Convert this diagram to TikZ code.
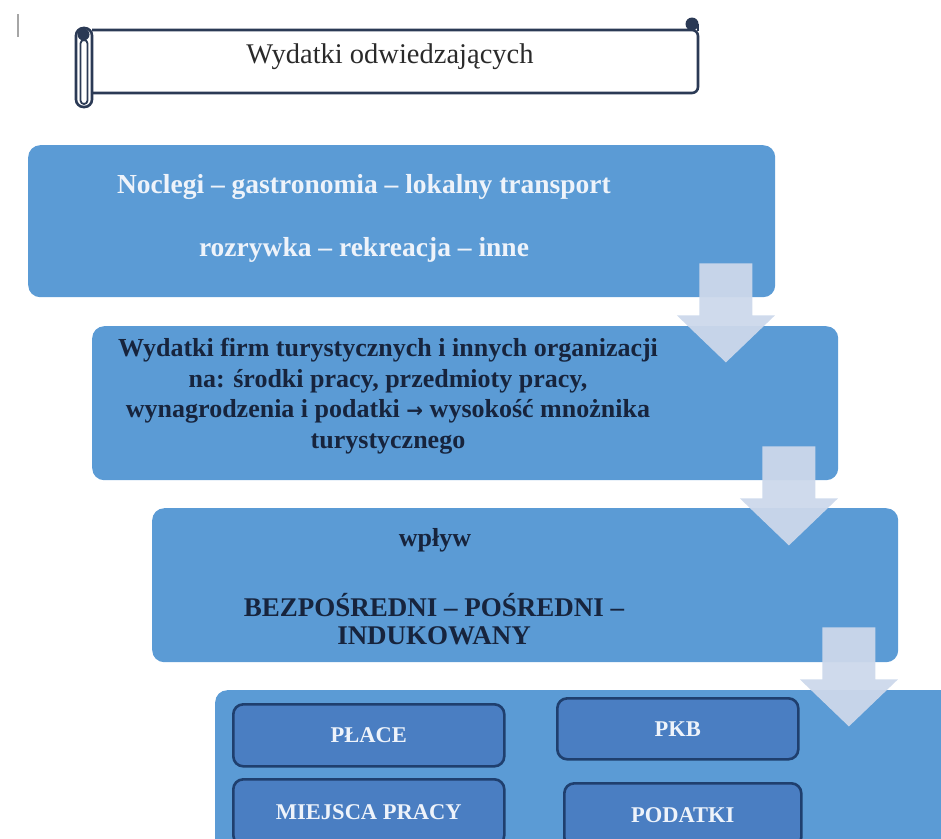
\documentclass[tikz,border=0pt]{standalone}
\usepackage{fontspec}
\setmainfont{Liberation Serif}
\usetikzlibrary{calc}

\definecolor{boxblue}{HTML}{5B9BD5}
\definecolor{arrowfill}{HTML}{CCD8EB}
\definecolor{innerfill}{HTML}{4A7EC2}
\definecolor{innerdraw}{HTML}{1F3F6E}
\definecolor{navytext}{HTML}{17243D}
\definecolor{lighttext}{HTML}{EEF3FA}
\definecolor{scrollink}{HTML}{2B3A55}
\definecolor{titletext}{HTML}{2A2A2A}

\tikzset{
  bluebox/.style={fill=boxblue, rounded corners=12pt, inner sep=0pt, anchor=north west},
  innerbox/.style={fill=innerfill, draw=innerdraw, line width=2.6pt, rounded corners=10pt,
    anchor=north west, inner sep=0pt, text=lighttext,
    font=\bfseries\fontsize{22.5}{26}\selectfont},
  lighttxt/.style={text=lighttext, font=\bfseries\fontsize{27.5}{30}\selectfont, inner sep=0pt},
  darktxt/.style={text=navytext, align=center, inner sep=0pt},
  scroll/.style={draw=scrollink, line width=2.6pt, line join=round},
  downarrow/.pic={
    \fill[arrowfill, opacity=0.95]
      (-26.5,0) -- (26.5,0) -- (26.5,52) -- (49,52) -- (0,99)
      -- (-49,52) -- (-26.5,52) -- cycle;
  }
}

\begin{document}
\begin{tikzpicture}[x=1pt, y=-1pt]
\useasboundingbox (0,0) rectangle (941,838);
\clip (0,0) rectangle (941,838);

% cursor mark at the top left
\draw[gray!70, line width=1.3pt] (18,14) -- (18,37);

% horizontal scroll banner
\draw[scroll, fill=white, rounded corners=6pt] (92,30) -- (698,30) -- (698,93) -- (92,93);
\draw[scroll] (698,31) -- (698,24);
\fill[scrollink] (692,24) circle (6.5);
\draw[scroll, fill=white, rounded corners=7.5pt] (76,28) rectangle (92,107);
\fill[scrollink] (83.5,34.5) circle (6);
\draw[draw=scrollink, line width=1.8pt, rounded corners=3.5pt] (80.5,40) rectangle (87.5,104);
\node[text=titletext, font=\fontsize{28.5}{30}\selectfont, inner sep=0pt] (title) at (390,57)
  {Wydatki odwiedzających};

% main blocks
\node[bluebox, minimum width=747pt, minimum height=152pt] (b1) at (28,145) {};
\node[bluebox, minimum width=746pt, minimum height=154pt] (b2) at (92,326) {};
\node[bluebox, minimum width=746pt, minimum height=154pt] (b3) at (152,508) {};
\node[bluebox, minimum width=760pt, minimum height=170pt] (b4) at (215,690) {};

% texts of the first block
\node[lighttxt] (b1a) at (364,187) {Noclegi – gastronomia – lokalny transport};
\node[lighttxt] (b1b) at (364,250) {rozrywka – rekreacja – inne};

% text of the second block
\node[darktxt, font=\bfseries\fontsize{26}{30.5}\selectfont] (b2t) at (388,396)
  {Wydatki firm turystycznych i innych organizacji\\
   na: środki pracy, przedmioty pracy,\\
   wynagrodzenia i podatki \raisebox{0.5pt}{\fontspec{DejaVu Sans}\fontsize{20}{20}\selectfont →} wysokość mnożnika\\
   turystycznego};

% texts of the third block
\node[darktxt, font=\bfseries\fontsize{26}{30}\selectfont] (b3a) at (435,540) {wpływ};
\node[darktxt, font=\bfseries\fontsize{27}{28}\selectfont] (b3b) at (434,619)
  {BEZPOŚREDNI – POŚREDNI –\\INDUKOWANY};

% effects
\node[innerbox, minimum width=271pt, minimum height=62pt] (place) at (232,703) {PŁACE};
\node[innerbox, minimum width=241pt, minimum height=61pt] (pkb) at (556,697) {PKB};
\node[innerbox, minimum width=271pt, minimum height=66pt] (miejsca) at (232,778) {MIEJSCA PRACY};
\node[innerbox, minimum width=237pt, minimum height=64pt] (podatki) at (563,782) {PODATKI};

% block arrows between the stages
\pic at ($(b1.south east)+(-49.5,-34)$) {downarrow};
\pic at ($(b2.south east)+(-49.5,-34)$) {downarrow};
\pic at ($(b3.south east)+(-49.5,-35)$) {downarrow};
\end{tikzpicture}
\end{document}
